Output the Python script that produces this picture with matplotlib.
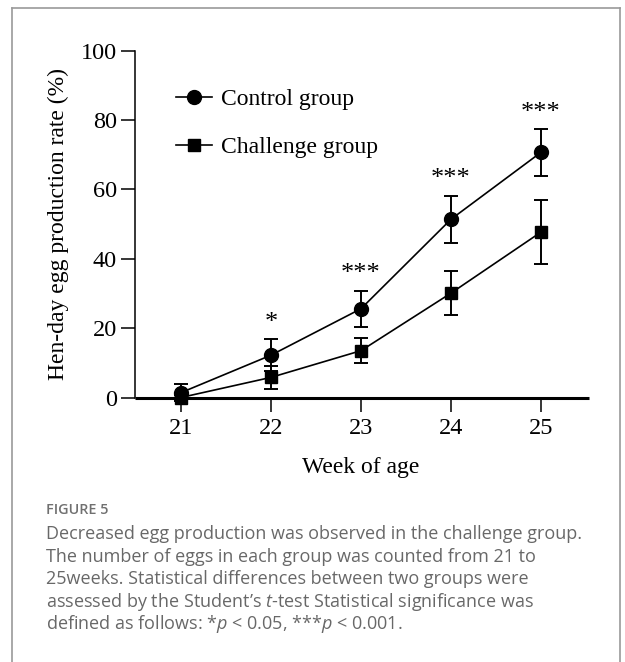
import matplotlib
matplotlib.use("Agg")
import matplotlib.pyplot as plt
from matplotlib.lines import Line2D
import numpy as np

# data (mean, SD)
weeks = [21, 22, 23, 24, 25]
control_mean = [1.4, 12.2, 25.6, 51.4, 70.7]
control_sd = [2.5, 4.6, 5.2, 6.8, 6.7]
challenge_mean = [0.0, 5.8, 13.5, 30.1, 47.7]
challenge_sd = [0.6, 3.4, 3.6, 6.4, 9.3]
stars = ["", "*", "***", "***", "***"]
yticks = [0, 20, 40, 60, 80, 100]

caption_title = "FIGURE 5"
caption_lines = [
    "Decreased egg production was observed in the challenge group.",
    "The number of eggs in each group was counted from 21 to",
    "25weeks. Statistical differences between two groups were",
    "assessed by the Student\u2019s $t$-test Statistical significance was",
    "defined as follows: *$p$ < 0.05, ***$p$ < 0.001.",
]

serif = "Liberation Serif"
plt.rcParams["mathtext.fontset"] = "custom"
plt.rcParams["mathtext.it"] = "Open Sans:italic"
plt.rcParams["mathtext.rm"] = "Open Sans"

W, H = 625, 662
fig = plt.figure(figsize=(W / 100, H / 100), dpi=100)
fig.patch.set_facecolor("white")

ax = fig.add_axes([135 / W, 1 - 397.5 / H, (589 - 135) / W, (397.5 - 50.7) / H])

ax.errorbar(weeks, control_mean, yerr=control_sd, color="black", marker="o",
            markersize=10, lw=1.2, elinewidth=1.4, capsize=4.7, capthick=1.4,
            clip_on=False, zorder=3, label="Control group")
ax.errorbar(weeks, challenge_mean, yerr=challenge_sd, color="black", marker="s",
            markersize=9, lw=1.2, elinewidth=1.4, capsize=4.7, capthick=1.4,
            clip_on=False, zorder=3, label="Challenge group")

for x, m, e, s in zip(weeks, control_mean, control_sd, stars):
    if s:
        ax.annotate(s, (x, m + e), xytext=(0, 3.8), textcoords="offset points",
                    ha="center", va="bottom", fontsize=19, family=serif)

ax.set_xlim(20.489, 25.533)
ax.set_ylim(0, 100)
ax.set_xticks(weeks)
ax.set_yticks(yticks)
ax.tick_params(axis="both", direction="out", length=10, width=1.1,
               labelsize=17.5, color="black")
ax.tick_params(axis="y", pad=3)
ax.tick_params(axis="x", pad=4.5)
for lab in ax.get_xticklabels() + ax.get_yticklabels():
    lab.set_family(serif)

ax.spines["top"].set_visible(False)
ax.spines["right"].set_visible(False)
ax.spines["left"].set_linewidth(1.1)
ax.spines["bottom"].set_linewidth(2.2)
ax.spines["bottom"].set_capstyle("butt")

ax.set_xlabel("Week of age", fontsize=17, family=serif)
ax.set_ylabel("Hen-day egg production rate (%)", fontsize=17, family=serif)
ax.xaxis.set_label_coords(0.497, -0.172)
ax.yaxis.set_label_coords(-0.145, 0.5)

handles, labels = ax.get_legend_handles_labels()
handles = [h[0] for h in handles]
ax.legend(handles, labels, loc="upper left", bbox_to_anchor=(0.07, 0.917),
          frameon=False, prop={"family": serif, "size": 17},
          handlelength=1.5, handletextpad=0.4, labelspacing=1.12,
          borderaxespad=0)

# caption
cap_color = "#686868"
fig.text(46 / W, 1 - 510 / H, caption_title, fontsize=10.4, family="Open Sans",
         fontweight="semibold", color="#707070", va="center", ha="left")
for i, line in enumerate(caption_lines):
    fig.text(46 / W, 1 - (534 + i * 22.6) / H, line, fontsize=13,
             family="Open Sans", color=cap_color, va="center", ha="left")

# page frame
frame = "#9a9a9a"
fig.add_artist(Line2D([12 / W, 12 / W], [0, 1 - 8 / H], color=frame, lw=1.2,
                      transform=fig.transFigure))
fig.add_artist(Line2D([620 / W, 620 / W], [0, 1 - 8 / H], color=frame, lw=1.2,
                      transform=fig.transFigure))
fig.add_artist(Line2D([12 / W, 620 / W], [1 - 8 / H, 1 - 8 / H], color=frame,
                      lw=1.2, transform=fig.transFigure))

fig.savefig("out.png", dpi=100)
